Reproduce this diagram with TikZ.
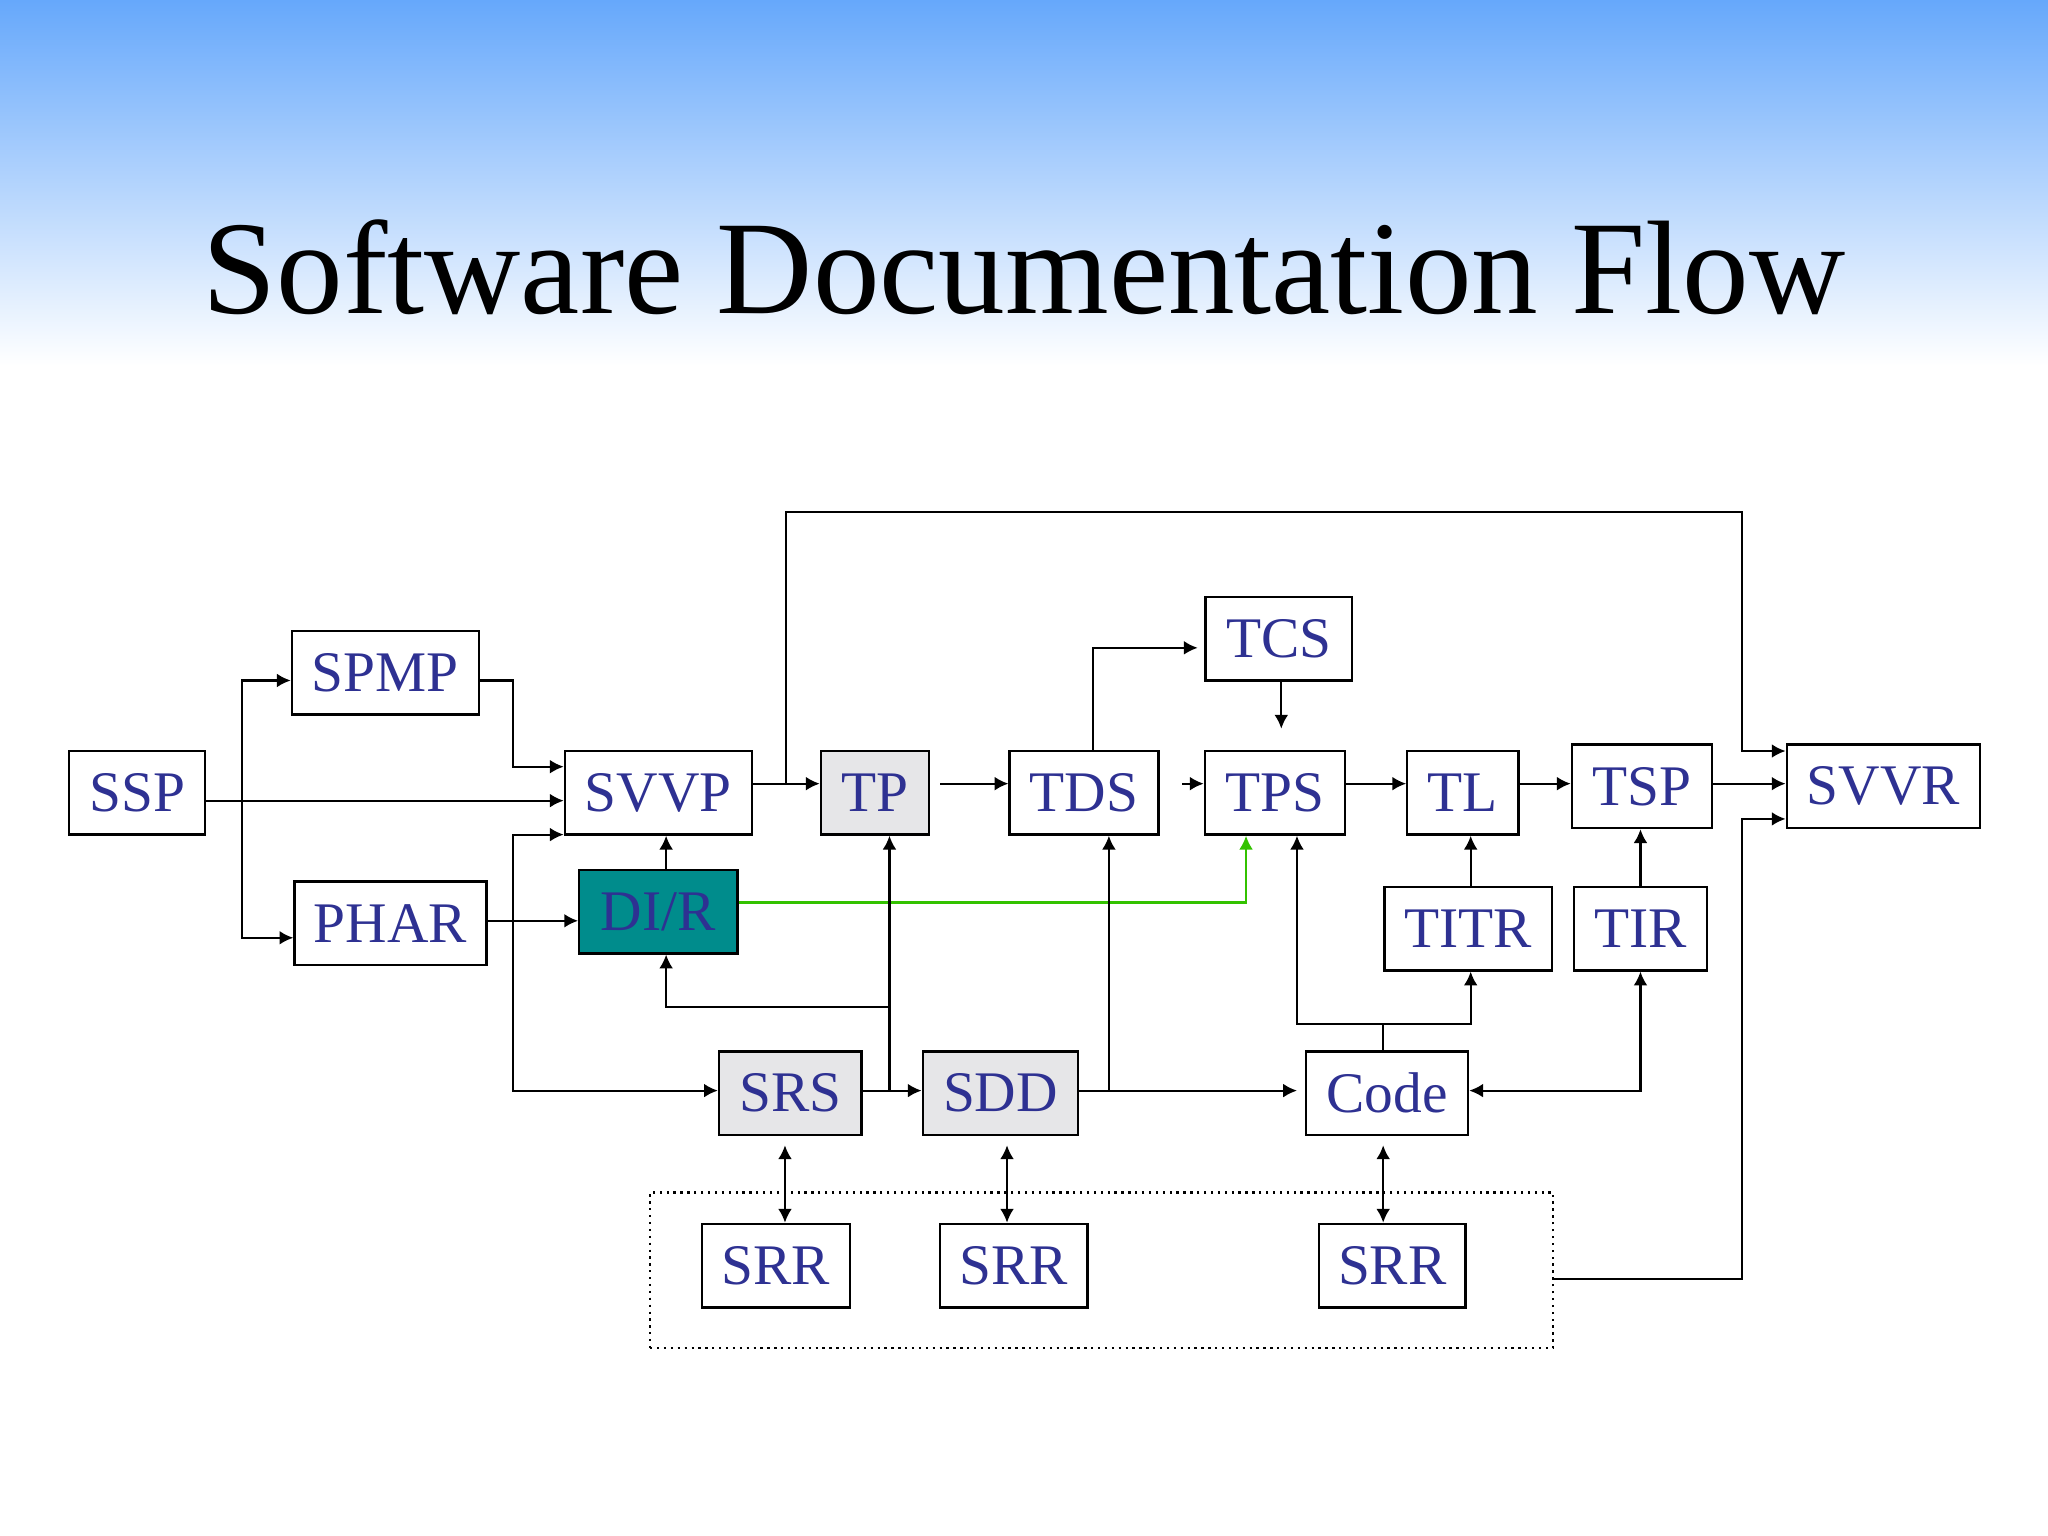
\documentclass[tikz,border=0pt]{standalone}
\usepackage{fontspec}
\setmainfont{Liberation Serif}
\usetikzlibrary{arrows.meta}
\definecolor{txt}{HTML}{2E3192}
\definecolor{tealf}{HTML}{008C8C}
\definecolor{grayf}{HTML}{E6E6E8}
\definecolor{topblue}{HTML}{66A8FB}
\begin{document}
\begin{tikzpicture}[x=0.01cm,y=-0.01cm,
  box/.style={draw,line width=0.5pt,inner sep=0pt,minimum height=0.64cm,text=txt,font=\fontsize{12.5}{14}\selectfont},
  ln/.style={line width=0.45pt},
  ar/.style={ln,-{Latex[length=3pt,width=3pt]}},
  dar/.style={ln,{Latex[length=3pt,width=3pt]}-{Latex[length=3pt,width=3pt]}}]
\useasboundingbox (0,0) rectangle (1568,1176);
\shade[top color=topblue,bottom color=white] (0,0) rectangle (1568,280);
\node[font=\fontsize{29}{34}\selectfont] (title) at (784,205) {Software Documentation Flow};

\node[box,minimum width=1.04cm] (SSP) at (105,607) {SSP};
\node[box,minimum width=1.43cm] (SPMP) at (295,515) {SPMP};
\node[box,minimum width=1.47cm] (PHAR) at (299,707) {PHAR};
\node[box,minimum width=1.43cm] (SVVP) at (504,607) {SVVP};
\node[box,minimum width=1.21cm,fill=tealf] (DIR) at (504,698) {DI/R};
\node[box,minimum width=0.83cm,fill=grayf] (TP) at (670,607) {TP};
\node[box,minimum width=1.14cm] (TDS) at (830,607) {TDS};
\node[box,minimum width=1.12cm] (TCS) at (979,489) {TCS};
\node[box,minimum width=1.07cm] (TPS) at (976,607) {TPS};
\node[box,minimum width=0.85cm] (TL) at (1120,607) {TL};
\node[box,minimum width=1.07cm] (TSP) at (1257,602) {TSP};
\node[box,minimum width=1.48cm] (SVVR) at (1442,602) {SVVR};
\node[box,minimum width=1.28cm] (TITR) at (1124,711) {TITR};
\node[box,minimum width=1.02cm] (TIR) at (1256,711) {TIR};
\node[box,minimum width=1.09cm,fill=grayf] (SRS) at (605,837) {SRS};
\node[box,minimum width=1.19cm,fill=grayf] (SDD) at (766,837) {SDD};
\node[box,minimum width=1.24cm] (Code) at (1062,837) {Code};
\node[box,minimum width=1.13cm] (SRR1) at (594,969) {SRR};
\node[box,minimum width=1.13cm] (SRR2) at (776,969) {SRR};
\node[box,minimum width=1.12cm] (SRR3) at (1066,969) {SRR};
\node[draw,densely dotted,line width=0.5pt,minimum width=6.91cm,minimum height=1.19cm,inner sep=0] (grp) at (843.5,972.5) {};

% SSP fan-out
\draw[ar] (SSP.east|-0,613) -- (SVVP.west|-0,613);
\draw[ar] (185,613) |- (SPMP.west|-0,521);
\draw[ar] (185,613) |- (PHAR.west|-0,718);
\draw[ar] (SPMP.east|-0,521) -- (393,521) |- (SVVP.west|-0,587);
\draw[ar] (PHAR.east|-0,705) -- (DIR.west|-0,705);
\draw[dar] (SVVP.west|-0,639) -| (393,835) -- (SRS.west|-0,835);
\draw[ar] (DIR.north-|510,0) -- (SVVP.south-|510,0);
% top row
\draw[ar] (SVVP.east|-0,600) -- (TP.west|-0,600);
\draw[ar] (602,600) |- (1334,392) |- (SVVR.west|-0,575);
\draw[ar] (720,600) -- (TDS.west|-0,600);
\draw[ar] (905,600) -- (TPS.west|-0,600);
\draw[ar] (TDS.north-|837,0) |- (917,496);
\draw[ar] (TCS.south-|981,0) -- ++(0,36);
\draw[ar] (TPS.east|-0,600) -- (TL.west|-0,600);
\draw[ar] (TL.east|-0,600) -- (TSP.west|-0,600);
\draw[ar] (TSP.east|-0,600) -- (SVVR.west|-0,600);
\draw[ar] (TITR.north-|1126,0) -- (TL.south-|1126,0);
\draw[ar] (TIR.north-|1256,0) -- (TSP.south-|1256,0);
\draw[ar,color=green!70!black!80!yellow] (DIR.east|-0,691) -| (TPS.south-|954,0);
% lower
\draw[ar] (SRS.east|-0,835) -- (SDD.west|-0,835);
\draw[ar] (681,835) -- (TP.south-|681,0);
\draw[ar] (681,771) -| (DIR.south-|510,0);
\draw[ar] (SDD.east|-0,835) -- (993,835);
\draw[ar] (849,835) -- (TDS.south-|849,0);
\draw[ln] (Code.north-|1059,0) -- (1059,784);
\draw[ar] (1059,784) -| (TPS.south-|993,0);
\draw[ar] (1059,784) -| (TITR.south-|1126,0);
\draw[dar] (TIR.south-|1256,0) |- (Code.east|-0,835);
\draw[dar] (SRS.south-|601,0) ++(0,7) -- (SRR1.north-|601,0);
\draw[dar] (SDD.south-|771,0) ++(0,7) -- (SRR2.north-|771,0);
\draw[dar] (Code.south-|1059,0) ++(0,7) -- (SRR3.north-|1059,0);
\draw[ar] (grp.east|-0,979) -- (1334,979) |- (SVVR.west|-0,627);
\end{tikzpicture}
\end{document}
